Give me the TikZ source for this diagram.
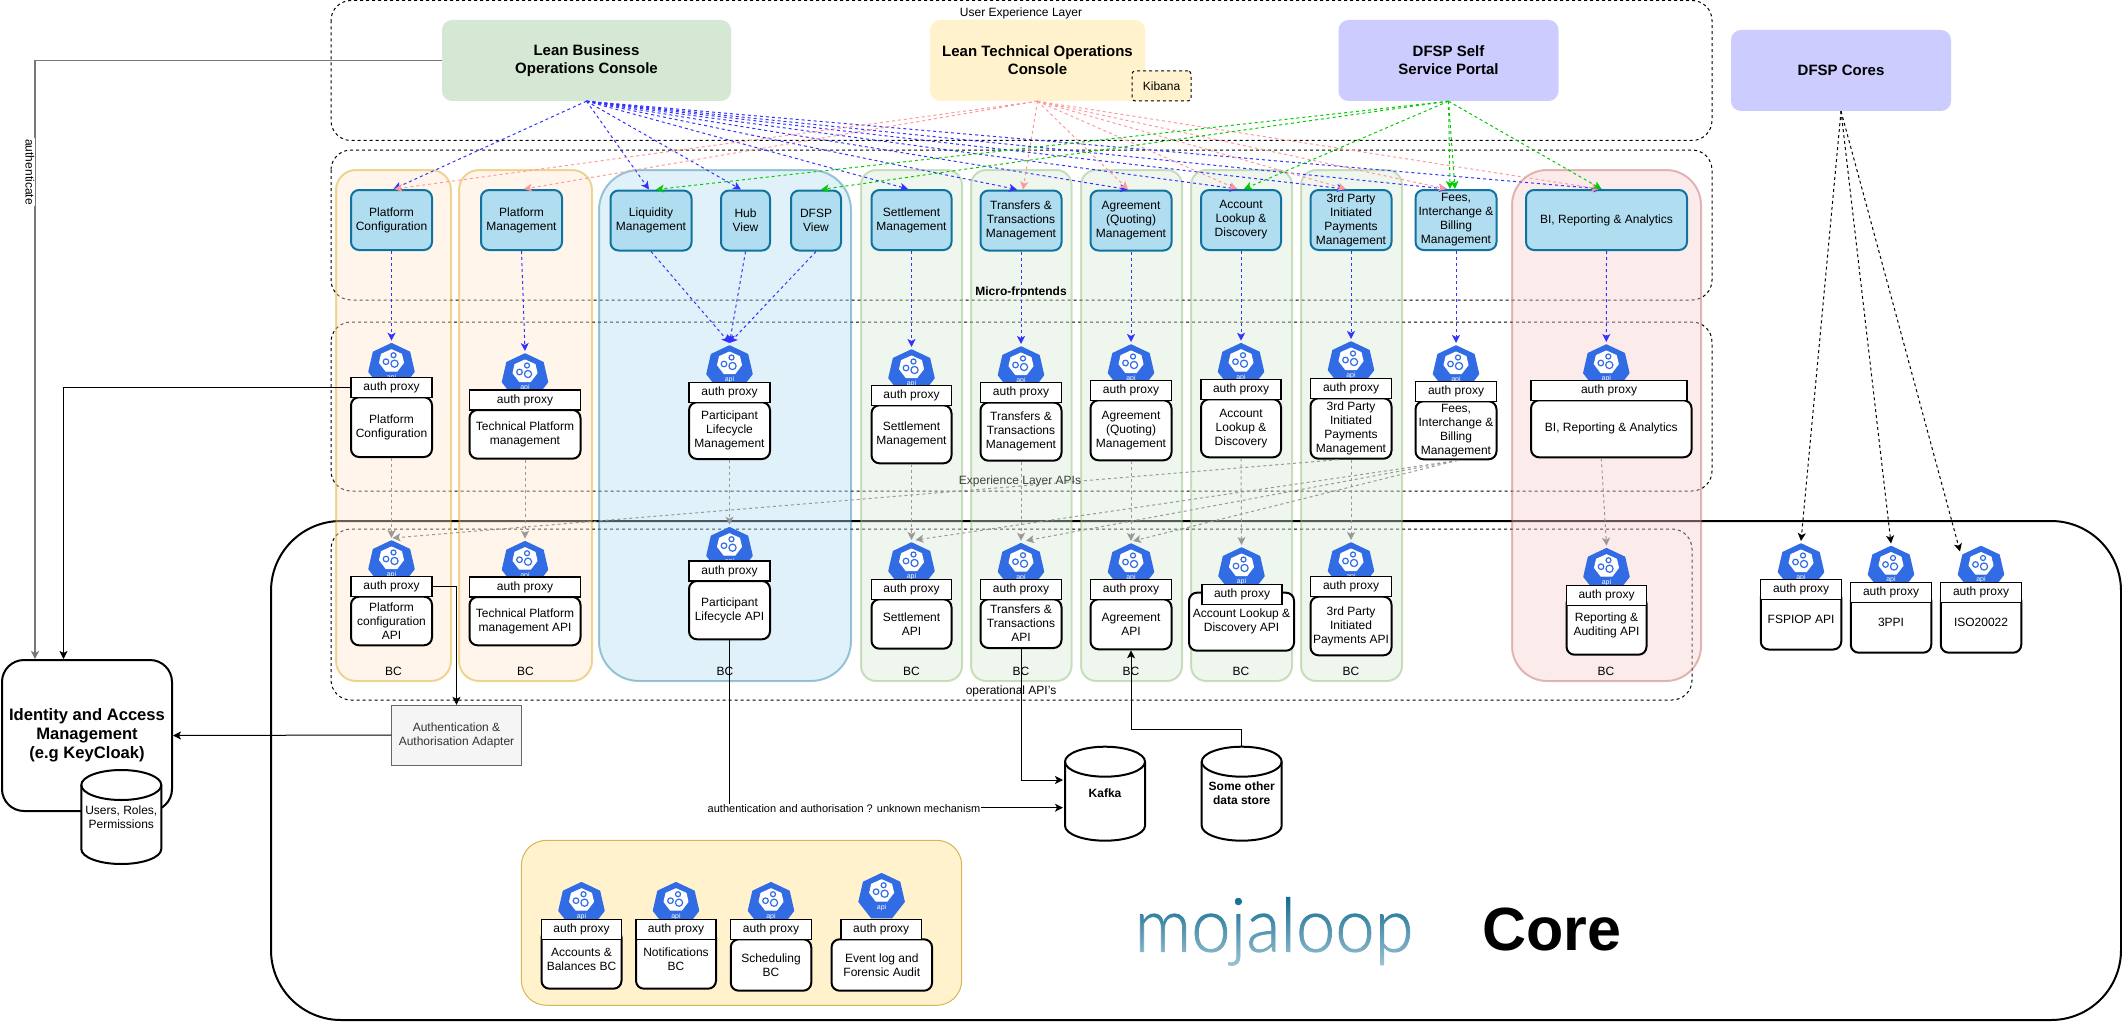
\documentclass[tikz,border=0pt]{standalone}
\usepackage{fontspec}
\setmainfont{Liberation Sans}
\newfontfamily\mojafont[FakeBold=1]{Lato Light}
\usetikzlibrary{arrows.meta}
\usetikzlibrary{fadings}
\tikzfading[name=mojafade,top color=transparent!100,bottom color=transparent!35]
\definecolor{apiblue}{HTML}{326CE5}
\definecolor{feborder}{HTML}{10739E}
\definecolor{fefill}{HTML}{B1DDF0}
\tikzset{
  smalltext/.style={font=\fontsize{12}{14}\selectfont,align=center},
  boldtext/.style={font=\bfseries\fontsize{12}{14}\selectfont,align=center},
  layerbox/.style={draw=black,line width=1pt,dash pattern=on 3pt off 3pt,rounded corners=20pt},
  bcbox/.style={line width=2pt,opacity=.4},
  consolebox/.style={font=\bfseries\fontsize{15}{18}\selectfont,align=center,minimum height=81pt,rounded corners=10pt,inner sep=0pt},
  frontend/.style={smalltext,draw=feborder,fill=fefill,line width=2pt,rounded corners=8pt,minimum height=60pt,inner sep=0pt},
  apibox/.style={smalltext,draw=black,fill=white,line width=2pt,rounded corners=8pt,inner sep=0pt},
  proxybox/.style={smalltext,draw=black,fill=white,line width=1.3pt,minimum height=20pt,inner sep=0pt},
  dblabel/.style={minimum width=80pt,minimum height=94pt,inner sep=0pt},
  bluelink/.style={draw={rgb,255:red,51;green,51;blue,255},line width=1pt,dash pattern=on 3pt off 3pt,->},
  pinklink/.style={draw={rgb,255:red,255;green,153;blue,153},line width=1pt,dash pattern=on 3pt off 3pt,->},
  greenlink/.style={draw={rgb,255:red,0;green,204;blue,0},line width=1pt,dash pattern=on 3pt off 3pt,->},
  greylink/.style={draw={rgb,255:red,153;green,153;blue,153},line width=1pt,dash pattern=on 3pt off 3pt,->},
  blacklink/.style={draw=black,line width=1pt,dash pattern=on 3pt off 3pt,->},
  solidlink/.style={draw=black,line width=1pt,->},
  apiicon/.pic={
    \fill[apiblue,draw=apiblue,line width=1.5pt,line join=round] (0,1)--(18,9.5)--(22.5,29)--(10,45)--(-10,45)--(-22.5,29)--(-18,9.5)--cycle;
    \fill[white,draw=white,line width=1pt,line join=round] (0,7)--(10,11.5)--(12,20)--(5.5,28.5)--(-5.5,28.5)--(-12,20)--(-10,11.5)--cycle;
    \draw[apiblue,line width=1.2pt] (-5.5,19) circle (2.8);
    \draw[apiblue,line width=1.2pt] (2,12.5) circle (2.5);
    \draw[apiblue,line width=1.2pt] (3,21) circle (3.6);
    \node[text=white,font=\fontsize{7}{8}\selectfont,inner sep=0pt] at (0,34.5) {api};
  }
}
% icon, box and proxy strip stacked; #1 is how far the box runs under the strip
\newcommand{\apistack}[8][0]{
  \pic at (#3,#4) {apiicon};
  \coordinate (#2-top) at (#3,#4-2);
  \pgfmathsetmacro\boxtop{#5+20-#1}
  \pgfmathsetmacro\boxmid{(\boxtop+#6)/2}
  \pgfmathsetmacro\boxtall{#6-\boxtop}
  \node[apibox,minimum width=#7pt,minimum height=\boxtall pt] (#2) at (#3,\boxmid) {#8};
  \node[proxybox,minimum width=#7pt] (#2-proxy) at (#3,#5+10) {auth proxy};
}
% drum outline with its named text node on top
\newcommand{\dbstore}[5]{
  \draw[draw=black,fill=white,line width=2pt] (#3-40,#4-32) arc[start angle=180,end angle=0,x radius=40pt,y radius=15pt] -- (#3+40,#4+32) arc[start angle=360,end angle=180,x radius=40pt,y radius=15pt] -- cycle;
  \draw[draw=black,line width=2pt] (#3-40,#4-32) arc[start angle=180,end angle=360,x radius=40pt,y radius=15pt];
  \node[dblabel,#1] (#2) at (#3,#4) {#5};
}
\begin{document}
\begin{tikzpicture}[x=1pt,y=-1pt,>={Stealth[length=8pt,width=8pt,inset=2pt]}]
\useasboundingbox (0,0) rectangle (2122,1022);

% outer core frame and the dashed layers
\draw[draw=black,line width=2pt,rounded corners=70pt] (271,521) rectangle (2121,1020);
\draw[layerbox] (331,0.5) rectangle (1712,140.5);
\draw[layerbox] (331,150) rectangle (1712,300);
\draw[layerbox] (331,322) rectangle (1712,491);
\draw[layerbox] (331,529) rectangle (1692,700);

% bounded contexts
\draw[bcbox,draw={rgb,255:red,215;green,155;blue,0},fill={rgb,255:red,255;green,230;blue,204},rounded corners=20pt] (336,170) rectangle (451,681);
\draw[bcbox,draw={rgb,255:red,215;green,155;blue,0},fill={rgb,255:red,255;green,230;blue,204},rounded corners=20pt] (459,170) rectangle (592,681);
\draw[bcbox,draw=feborder,fill=fefill,rounded corners=40pt] (599,170) rectangle (851,681);
\draw[bcbox,draw={rgb,255:red,130;green,179;blue,102},fill={rgb,255:red,213;green,232;blue,212},rounded corners=15pt] (861,170) rectangle (962,681);
\draw[bcbox,draw={rgb,255:red,130;green,179;blue,102},fill={rgb,255:red,213;green,232;blue,212},rounded corners=15pt] (971,170) rectangle (1071.5,681);
\draw[bcbox,draw={rgb,255:red,130;green,179;blue,102},fill={rgb,255:red,213;green,232;blue,212},rounded corners=15pt] (1081,170) rectangle (1182,681);
\draw[bcbox,draw={rgb,255:red,130;green,179;blue,102},fill={rgb,255:red,213;green,232;blue,212},rounded corners=15pt] (1191,170) rectangle (1292,681);
\draw[bcbox,draw={rgb,255:red,130;green,179;blue,102},fill={rgb,255:red,213;green,232;blue,212},rounded corners=15pt] (1301,170) rectangle (1402,681);
\draw[bcbox,draw={rgb,255:red,184;green,84;blue,80},fill={rgb,255:red,248;green,206;blue,204},rounded corners=35pt] (1512,170) rectangle (1701,681);

% consoles
\node[consolebox,fill={rgb,255:red,213;green,232;blue,212},minimum width=289pt] (lbo) at (586.5,60.5) {Lean Business\\Operations Console};
\node[consolebox,fill={rgb,255:red,255;green,242;blue,204},minimum width=215pt] (lto) at (1037.5,60.5) {Lean Technical Operations\\Console};
\node[smalltext,draw=black,line width=1pt,fill={rgb,255:red,255;green,242;blue,204},dash pattern=on 3pt off 3pt,rounded corners=3pt,minimum width=59pt,minimum height=30pt,inner sep=0pt] (kibana) at (1161.5,86) {Kibana};
\node[consolebox,fill={rgb,255:red,204;green,204;blue,255},minimum width=220pt] (dsp) at (1448.5,60.5) {DFSP Self\\Service Portal};
\node[consolebox,fill={rgb,255:red,204;green,204;blue,255},minimum width=220pt] (cores) at (1841,70.5) {DFSP Cores};

% micro-frontends
\node[frontend,minimum width=81pt] (pcfe) at (391.5,220) {Platform\\Configuration};
\node[frontend,minimum width=81pt] (pmfe) at (521.5,220) {Platform\\Management};
\node[frontend,minimum width=81pt] (liqfe) at (651,220.5) {Liquidity\\Management};
\node[frontend,minimum width=49pt] (hubfe) at (745.5,220.5) {Hub\\View};
\node[frontend,minimum width=50pt] (dfspfe) at (816,220.5) {DFSP\\View};
\node[frontend,minimum width=80pt] (setfe) at (911.5,220) {Settlement\\Management};
\node[frontend,minimum width=81pt] (trnfe) at (1021,220.5) {Transfers \&\\Transactions\\Management};
\node[frontend,minimum width=81pt] (agrfe) at (1131,220.5) {Agreement\\(Quoting)\\Management};
\node[frontend,minimum width=80pt] (accfe) at (1241,220) {Account\\Lookup \&\\Discovery};
\node[frontend,minimum width=81pt] (trdfe) at (1351,220) {3rd Party\\Initiated\\Payments\\Management};
\node[frontend,minimum width=81pt] (feefe) at (1456,220) {Fees,\\Interchange \&\\Billing\\Management};
\node[frontend,minimum width=161pt] (bife) at (1606.5,220) {BI, Reporting \& Analytics};

% experience layer APIs
\apistack{pcexp}{391.5}{342.7}{377.3}{457}{81}{Platform\\Configuration}
\apistack{pmexp}{525}{353}{390}{458.7}{111}{Technical Platform\\management}
\apistack{partexp}{729.5}{345}{382.3}{459}{81}{Participant\\Lifecycle\\Management}
\apistack{setexp}{911.5}{349}{385.3}{463.3}{80}{Settlement\\Management}
\apistack{trnexp}{1021}{346}{382.5}{460.7}{81}{Transfers \&\\Transactions\\Management}
\apistack{agrexp}{1131}{344}{380.3}{460.3}{81}{Agreement\\(Quoting)\\Management}
\apistack{accexp}{1241}{342.7}{379.3}{457.3}{80}{Account\\Lookup \&\\Discovery}
\apistack{trdexp}{1351}{341}{378.3}{458.7}{81}{3rd Party\\Initiated\\Payments\\Management}
\apistack{feeexp}{1456}{345}{381.3}{459.3}{81}{Fees,\\Interchange \&\\Billing\\Management}
\pic at (1606.3,344) {apiicon};
\coordinate (biexp-top) at (1606.3,342);
\node[apibox,minimum width=160.5pt,minimum height=57pt] (biexp) at (1611.3,428.8) {BI, Reporting \& Analytics};
\node[proxybox,minimum width=156pt] (biexp-proxy) at (1609,390.3) {auth proxy};

% operational APIs
\apistack{pcapi}{391.5}{540}{576.7}{645.3}{81}{Platform\\configuration\\API}
\apistack{pmapi}{525}{540.7}{577}{645.3}{111}{Technical Platform\\management API}
\apistack{partapi}{729.5}{526.7}{561}{639.3}{81}{Participant\\Lifecycle API}
\apistack{setapi}{911.5}{542}{579.3}{648.7}{80}{Settlement\\API}
\apistack{trnapi}{1021}{542.7}{579.3}{648}{81}{Transfers \&\\Transactions\\API}
\apistack{agrapi}{1131}{543}{579.3}{649.3}{81}{Agreement\\API}
\pic at (1241.5,547) {apiicon};
\coordinate (accapi-top) at (1241.5,545);
\node[apibox,minimum width=105pt,minimum height=58pt] (accapi) at (1241.5,621.7) {Account Lookup \&\\Discovery API};
\node[proxybox,minimum width=80pt] (accapi-proxy) at (1242,594.3) {auth proxy};
\apistack{trdapi}{1351}{542}{576.7}{655.3}{81}{3rd Party\\Initiated\\Payments API}
\apistack[10]{repapi}{1606.5}{547.7}{585.7}{654.7}{80}{Reporting \&\\Auditing API}
\apistack[10]{fspapi}{1801}{543}{579.5}{649.5}{80.5}{FSPIOP API}
\apistack[10]{ppiapi}{1891}{545.5}{582.6}{652.7}{80.5}{3PPI}
\apistack[10]{isoapi}{1981}{545.5}{582.6}{652.7}{80.5}{ISO20022}

% identity and access management
\node[draw=black,fill=white,line width=2pt,rounded corners=22pt,minimum width=170pt,minimum height=151pt,font=\bfseries\fontsize{16.6}{19}\selectfont,align=center,inner sep=0pt] (iam) at (87,735.5) {Identity and Access\\Management\\(e.g KeyCloak)};
\dbstore{smalltext}{usersdb}{121.3}{817}{Users, Roles,\\Permissions}
\node[smalltext,draw={rgb,255:red,102;green,102;blue,102},fill={rgb,255:red,245;green,245;blue,245},text={rgb,255:red,51;green,51;blue,51},minimum width=130pt,minimum height=60pt,inner sep=0pt] (adapter) at (456.5,735) {Authentication \&\\Authorisation Adapter};

% data stores
\dbstore{boldtext}{kafka}{1105}{793.7}{Kafka}
\dbstore{boldtext}{otherdb}{1241.7}{793.7}{Some other\\data store}
\coordinate (kafkahigh) at (1063,780);
\coordinate (kafkalow) at (1063,807.7);

% shared services
\draw[draw={rgb,255:red,214;green,182;blue,86},fill={rgb,255:red,255;green,242;blue,204},line width=1pt,rounded corners=25pt] (521.4,840.3) rectangle (961.7,1005.3);
\apistack[10]{accbc}{581.5}{881.7}{919.3}{988.7}{80}{Accounts \&\\Balances BC}
\apistack[10]{notbc}{676}{881.7}{919.3}{988.7}{80}{Notifications\\BC}
\apistack{schbc}{771}{881.7}{919.3}{990.7}{80.5}{Scheduling\\BC}
\pic at (881.6,872.7) {apiicon};
\node[apibox,minimum width=100.5pt,minimum height=51.4pt] (evtbc) at (881.8,965) {Event log and\\Forensic Audit};
\node[proxybox,minimum width=80.5pt] (evtbc-proxy) at (881.2,929.3) {auth proxy};

% business console links
\draw[bluelink] (lbo.south) -- ([xshift=2pt]pcfe.north);
\draw[bluelink] (lbo.south) -- ([xshift=-2pt]liqfe.north);
\draw[bluelink] (lbo.south) -- ([xshift=-4.5pt]hubfe.north);
\draw[bluelink] (lbo.south) -- ([xshift=-3.5pt]setfe.north);
\draw[bluelink] (lbo.south) -- ([xshift=-4pt]trnfe.north);
\draw[bluelink] (lbo.south) -- ([xshift=-3pt]agrfe.north);
\draw[bluelink] (lbo.south) -- ([xshift=-3.5pt]accfe.north);
\draw[bluelink] (lbo.south) -- ([xshift=-6pt]trdfe.north);
\draw[bluelink] (lbo.south) -- ([xshift=-9pt]feefe.north);
\draw[bluelink] (lbo.south) -- ([xshift=-5pt]bife.north);

% technical console links
\draw[pinklink] (lto.south) -- ([xshift=3pt]pcfe.north);
\draw[pinklink] (lto.south) -- ([xshift=2.5pt]pmfe.north);
\draw[pinklink] (lto.south) -- ([xshift=2pt]trnfe.north);
\draw[pinklink] (lto.south) -- ([xshift=-3pt]agrfe.north);
\draw[pinklink] (lto.south) -- ([xshift=-4pt]accfe.north);
\draw[pinklink] (lto.south) -- ([xshift=-5pt]trdfe.north);
\draw[pinklink] (lto.south) -- ([xshift=-9.5pt]feefe.north);
\draw[pinklink] (lto.south) -- ([xshift=-7pt]bife.north);

% self service links
\draw[greenlink] (dsp.south) -- ([xshift=5pt]liqfe.north);
\draw[greenlink] (dsp.south) -- ([xshift=5pt]dfspfe.north);
\draw[greenlink] (dsp.south) -- ([xshift=3pt]accfe.north);
\draw[greenlink] (dsp.south) -- ([xshift=-6pt]feefe.north);
\draw[greenlink] (dsp.south) -- ([xshift=-1pt]feefe.north);
\draw[greenlink] (dsp.south) -- ([xshift=-5pt]bife.north);

% frontend to experience API
\draw[bluelink] (pcfe.south) -- (pcexp-top);
\draw[bluelink] (pmfe.south) -- (pmexp-top);
\draw[bluelink] (liqfe.south) -- (partexp-top);
\draw[bluelink] (hubfe.south) -- (partexp-top);
\draw[bluelink] (dfspfe.south) -- (partexp-top);
\draw[bluelink] (setfe.south) -- (setexp-top);
\draw[bluelink] (trnfe.south) -- (trnexp-top);
\draw[bluelink] (agrfe.south) -- (agrexp-top);
\draw[bluelink] (accfe.south) -- (accexp-top);
\draw[bluelink] (trdfe.south) -- (trdexp-top);
\draw[bluelink] (feefe.south) -- (feeexp-top);
\draw[bluelink] (bife.south) -- (biexp-top);

% experience API to operational API
\draw[greylink] (pcexp.south) -- (pcapi-top);
\draw[greylink] (pmexp.south) -- (pmapi-top);
\draw[greylink] (partexp.south) -- (partapi-top);
\draw[greylink] (setexp.south) -- (setapi-top);
\draw[greylink] (trnexp.south) -- (trnapi-top);
\draw[greylink] (agrexp.south) -- (agrapi-top);
\draw[greylink] (accexp.south) -- (accapi-top);
\draw[greylink] (trdexp.south) -- (trdapi-top);
\draw[greylink] ([xshift=-10pt]biexp.south) -- (repapi-top);
\draw[greylink] ([xshift=-13pt]trdexp.south) -- ([xshift=1pt]pcapi-top);
\draw[greylink] ([xshift=2pt]feeexp.south) -- ([xshift=4pt]setapi-top);
\draw[greylink] ([xshift=2pt]feeexp.south) -- ([xshift=5pt]trnapi-top);
\draw[greylink] ([xshift=2pt]feeexp.south) -- ([xshift=2pt]agrapi-top);

% DFSP cores
\draw[blacklink] (cores.south) -- (fspapi-top);
\draw[blacklink] (cores.south) -- (ppiapi-top);
\draw[blacklink] (cores.south) -- ([xshift=-21pt,yshift=-8pt]isoapi-top);

% solid links
\draw[solidlink,draw={rgb,255:red,120;green,120;blue,120},line width=1.8pt,-{Stealth[length=8pt,width=8pt,inset=2pt,fill=black!70]}] (lbo.west) -| ([xshift=-52pt]iam.north);
\draw[solidlink] (pcexp-proxy.west) -| ([xshift=-23.5pt]iam.north);
\draw[solidlink] (pcapi-proxy.east) -| (adapter.north);
\draw[solidlink] (adapter.west) -- (iam.east);
\draw[solidlink] (partapi.south) |- (kafkalow);
\draw[solidlink] (trnapi.south) |- (kafkahigh);
\draw[solidlink] (otherdb.north) -- ++(0,-17) -| (agrapi.south);

% free labels
\node[smalltext,fill=white,inner sep=1pt,rotate=-90] (authlabel) at (30,172) {authenticate};
\node[font=\fontsize{11}{14}\selectfont,fill=white,inner sep=1pt] (mechlabel) at (844,809) {authentication and authorisation ? unknown mechanism};
\node[smalltext,inner sep=0pt] (uxlabel) at (1021,13.5) {User Experience Layer};
\node[boldtext,inner sep=0pt] (mfelabel) at (1021,291) {Micro-frontends};
\node[smalltext,text=black!75,inner sep=0pt] (explabel) at (1020,481) {Experience Layer APIs};
\node[smalltext,inner sep=0pt] (oplabel) at (1011,691) {operational API's};
\node[smalltext,inner sep=0pt] (bca) at (393.4,671) {BC};
\node[smalltext,inner sep=0pt] (bcb) at (525.5,671) {BC};
\node[smalltext,inner sep=0pt] (bcc) at (725,671) {BC};
\node[smalltext,inner sep=0pt] (bcd) at (911.5,671) {BC};
\node[smalltext,inner sep=0pt] (bce) at (1021,671) {BC};
\node[smalltext,inner sep=0pt] (bcf) at (1131,671) {BC};
\node[smalltext,inner sep=0pt] (bcg) at (1241,671) {BC};
\node[smalltext,inner sep=0pt] (bch) at (1351,671) {BC};
\node[smalltext,inner sep=0pt] (bci) at (1606,671) {BC};

% logo words
\node[anchor=base,inner sep=0pt,text={rgb,255:red,15;green,106;blue,145},font=\mojafont\fontsize{75}{75}\selectfont] (moja) at (1274,951.7) {\scalebox{.94}[1]{mojaloop}};
\fill[white,path fading=mojafade] (1130,895) rectangle (1420,972);
\node[anchor=base,inner sep=0pt,font=\bfseries\fontsize{61}{61}\selectfont] (corelabel) at (1552,950.7) {Core};
\end{tikzpicture}
\end{document}
